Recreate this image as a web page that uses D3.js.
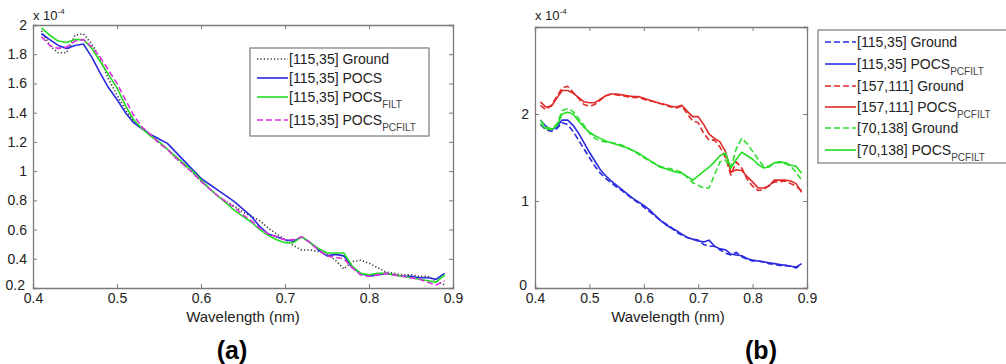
<!DOCTYPE html>
<html><head><meta charset="utf-8">
<script src="https://cdn.jsdelivr.net/npm/d3@7"></script>
<style>body{margin:0;background:#fff}svg{display:block}text{font-family:"Liberation Sans",Arial,sans-serif}</style>
</head><body>
<svg id="c" width="1006" height="364"></svg>
<script>
const wavelength = d3.range(41, 90).map(d => d / 100);

// Panel (a), values x 1e-4
const aGround = [1.96,1.86,1.81,1.81,1.93,1.94,1.87,1.77,1.63,1.52,1.42,1.34,1.29,1.25,1.20,1.15,1.09,1.04,0.99,0.93,0.88,0.83,0.79,0.76,0.72,0.69,0.66,0.61,0.57,0.53,0.49,0.46,0.46,0.45,0.43,0.39,0.33,0.38,0.39,0.37,0.34,0.31,0.30,0.29,0.29,0.28,0.28,0.25,0.22];
const aPOCS = [1.94,1.90,1.86,1.84,1.86,1.87,1.78,1.67,1.57,1.49,1.40,1.33,1.29,1.25,1.22,1.19,1.13,1.07,1.01,0.95,0.91,0.87,0.83,0.79,0.74,0.69,0.62,0.57,0.55,0.53,0.52,0.55,0.51,0.46,0.42,0.43,0.42,0.34,0.30,0.28,0.29,0.30,0.29,0.28,0.28,0.27,0.27,0.26,0.30];
const aFILT = [1.98,1.93,1.89,1.88,1.90,1.90,1.84,1.75,1.66,1.57,1.45,1.35,1.29,1.24,1.20,1.15,1.10,1.05,1.00,0.94,0.88,0.83,0.78,0.73,0.69,0.65,0.60,0.56,0.53,0.51,0.51,0.55,0.51,0.47,0.44,0.44,0.44,0.35,0.30,0.29,0.30,0.30,0.29,0.28,0.27,0.26,0.25,0.24,0.29];
const aPCFILT = [1.92,1.86,1.84,1.85,1.89,1.90,1.85,1.78,1.69,1.60,1.49,1.38,1.30,1.25,1.19,1.15,1.09,1.04,0.99,0.93,0.88,0.83,0.79,0.75,0.70,0.66,0.61,0.57,0.55,0.53,0.53,0.55,0.51,0.46,0.42,0.41,0.40,0.34,0.29,0.28,0.29,0.30,0.29,0.28,0.27,0.26,0.24,0.22,0.25];

// Panel (b), values x 1e-4
const b115Ground = [1.88,1.82,1.80,1.83,1.90,1.88,1.80,1.70,1.60,1.50,1.40,1.32,1.26,1.21,1.16,1.12,1.07,1.02,0.98,0.93,0.88,0.83,0.78,0.74,0.70,0.64,0.61,0.58,0.56,0.55,0.50,0.48,0.48,0.44,0.40,0.38,0.41,0.36,0.33,0.31,0.31,0.30,0.28,0.27,0.26,0.26,0.25,0.23,0.27];
const b115POCS = [1.93,1.86,1.82,1.85,1.93,1.93,1.87,1.78,1.67,1.56,1.46,1.36,1.29,1.23,1.18,1.13,1.08,1.03,0.99,0.95,0.90,0.84,0.78,0.73,0.69,0.66,0.62,0.58,0.56,0.54,0.53,0.55,0.48,0.45,0.44,0.39,0.38,0.37,0.34,0.32,0.31,0.30,0.29,0.28,0.27,0.26,0.25,0.24,0.28];
const b157Ground = [2.10,2.05,2.10,2.20,2.30,2.32,2.25,2.18,2.11,2.09,2.11,2.16,2.21,2.23,2.22,2.21,2.20,2.19,2.19,2.17,2.15,2.14,2.12,2.10,2.08,2.07,2.09,2.00,1.92,1.90,1.78,1.70,1.70,1.62,1.50,1.30,1.45,1.38,1.25,1.17,1.12,1.13,1.18,1.22,1.22,1.23,1.20,1.17,1.12];
const b157POCS = [2.14,2.08,2.09,2.18,2.27,2.27,2.24,2.19,2.14,2.13,2.13,2.17,2.21,2.23,2.23,2.22,2.21,2.20,2.20,2.18,2.16,2.14,2.12,2.11,2.09,2.08,2.10,2.03,1.97,1.97,1.88,1.77,1.72,1.68,1.57,1.33,1.36,1.35,1.28,1.22,1.15,1.15,1.17,1.24,1.24,1.24,1.23,1.20,1.10];
const b70Ground = [1.93,1.85,1.83,1.88,2.04,2.06,2.03,1.95,1.87,1.78,1.72,1.69,1.68,1.67,1.66,1.64,1.61,1.58,1.54,1.50,1.46,1.43,1.40,1.38,1.37,1.35,1.33,1.27,1.21,1.18,1.15,1.15,1.30,1.45,1.47,1.38,1.60,1.72,1.66,1.57,1.48,1.40,1.40,1.44,1.44,1.43,1.40,1.33,1.24];
const b70POCS = [1.89,1.83,1.82,1.86,2.00,2.02,2.00,1.92,1.85,1.79,1.75,1.72,1.69,1.67,1.65,1.63,1.61,1.58,1.55,1.51,1.47,1.43,1.39,1.37,1.35,1.33,1.32,1.28,1.24,1.29,1.34,1.39,1.45,1.52,1.55,1.38,1.48,1.56,1.52,1.48,1.42,1.38,1.39,1.44,1.45,1.44,1.41,1.40,1.32];

const xTicks = [0.4,0.5,0.6,0.7,0.8,0.9];
const aYTicks = [0.2,0.4,0.6,0.8,1,1.2,1.4,1.6,1.8,2];
const bYTicks = [0,1,2];

const svg = d3.select("#c");
const AX = "#7a7a7a", TX = "#222";

function panel(cfg) {
  const x = d3.scaleLinear().domain([0.4,0.9]).range([cfg.x0, cfg.x1]);
  const y = d3.scaleLinear().domain(cfg.yDom).range([cfg.y1, cfg.y0]);
  const g = svg.append("g");
  const fmt = d => d === 0 ? "0" : String(d);
  // inward ticks on all four sides
  const axB = g.append("g").attr("transform", `translate(0,${cfg.y1})`)
    .call(d3.axisBottom(x).tickValues(xTicks).tickSize(-4).tickPadding(7).tickFormat(fmt));
  const axT = g.append("g").attr("transform", `translate(0,${cfg.y0})`)
    .call(d3.axisTop(x).tickValues(xTicks).tickSize(-4).tickFormat(""));
  const axL = g.append("g").attr("transform", `translate(${cfg.x0},0)`)
    .call(d3.axisLeft(y).tickValues(cfg.yTicks).tickSize(-4).tickPadding(6).tickFormat(fmt));
  const axR = g.append("g").attr("transform", `translate(${cfg.x1},0)`)
    .call(d3.axisRight(y).tickValues(cfg.yTicks).tickSize(-4).tickFormat(""));
  [axB, axT, axL, axR].forEach(a => {
    a.select(".domain").attr("stroke", AX).attr("stroke-width", 1.3);
    a.selectAll(".tick line").attr("stroke", AX);
    a.selectAll("text").attr("fill", TX).attr("font-size", 14).style("font-family", '"Liberation Sans",Arial,sans-serif');
  });
  axB.selectAll("text").attr("dy", "0.55em");
  // nudge the lowest y label so it does not collide with the first x label
  axL.selectAll(".tick text").filter((d, i) => i === 0).attr("dy", "0.1em").attr("dx", "-2");
  // exponent label
  const ex = g.append("text").attr("x", cfg.x0).attr("y", 20).attr("fill", TX).attr("font-size", 13);
  ex.append("tspan").text("x 10");
  ex.append("tspan").attr("dy", -6).attr("font-size", 8).text("-4");
  // x label
  g.append("text").attr("x", cfg.xlabX).attr("y", 322).attr("text-anchor", "middle")
    .attr("fill", TX).attr("font-size", 15).text("Wavelength (nm)");
  g.append("text").attr("x", cfg.tagX).attr("y", 359).attr("text-anchor", "middle")
    .attr("fill", "#000").attr("font-size", 25).attr("font-weight", "bold").text(cfg.tag);
  // lines
  const clip = "clip" + cfg.tag.replace(/\W/g, "");
  svg.append("clipPath").attr("id", clip).append("rect")
    .attr("x", cfg.x0).attr("y", cfg.y0).attr("width", cfg.x1 - cfg.x0).attr("height", cfg.y1 - cfg.y0);
  const line = d3.line().x((d, i) => x(wavelength[i])).y(d => y(d));
  const lg = g.append("g").attr("clip-path", `url(#${clip})`);
  cfg.series.forEach(s => {
    lg.append("path").datum(s.v).attr("d", line).attr("fill", "none")
      .attr("stroke", s.c).attr("stroke-width", s.w || 1.6).attr("stroke-dasharray", s.dash || null)
      .attr("stroke-linejoin", "round");
  });
  // legend
  const L = cfg.legend;
  g.append("rect").attr("x", L.x).attr("y", L.y).attr("width", L.w).attr("height", L.h)
    .attr("fill", "#fff").attr("stroke", AX).attr("stroke-width", 1.2);
  L.items.forEach((it, i) => {
    const s = cfg.series[it.s];
    const yy = L.rows[i];
    g.append("line").attr("x1", L.x + 7).attr("x2", L.x + 38).attr("y1", yy).attr("y2", yy)
      .attr("stroke", s.c).attr("stroke-width", s.w || 1.6).attr("stroke-dasharray", s.dash || null);
    const t = g.append("text").attr("x", L.x + 39).attr("y", yy + 5).attr("fill", TX).attr("font-size", 14);
    t.append("tspan").text(it.t);
    if (it.sub) t.append("tspan").attr("dy", 6).attr("font-size", 10).attr("fill", "#444").text(it.sub);
  });
}

panel({
  x0: 33, x1: 453, y0: 25, y1: 288, yDom: [0.2, 2], yTicks: aYTicks, xlabX: 243, tagX: 232, tag: "(a)",
  series: [
    {v: aGround, c: "#333", dash: "1.2,2.2", w: 1.6},
    {v: aPOCS, c: "#2a2ae0"},
    {v: aFILT, c: "#22dd22"},
    {v: aPCFILT, c: "#e030e0", dash: "6,3"}
  ],
  legend: {x: 250, y: 48, w: 179, h: 88, rows: [59, 78, 97, 120],
    items: [{s: 0, t: "[115,35] Ground"}, {s: 1, t: "[115,35] POCS"},
            {s: 2, t: "[115,35] POCS", sub: "FILT"}, {s: 3, t: "[115,35] POCS", sub: "PCFILT"}]}
});

panel({
  x0: 535, x1: 807, y0: 27, y1: 288, yDom: [0, 3], yTicks: bYTicks, xlabX: 668, tagX: 761, tag: "(b)",
  series: [
    {v: b115Ground, c: "#2a2ae0", dash: "6,3"},
    {v: b115POCS, c: "#2a2ae0"},
    {v: b157Ground, c: "#e02a2a", dash: "6,3"},
    {v: b157POCS, c: "#e02a2a"},
    {v: b70Ground, c: "#33dd33", dash: "6,3"},
    {v: b70POCS, c: "#22dd22"}
  ],
  legend: {x: 818, y: 30, w: 200, h: 133, rows: [42, 64, 86, 107, 128, 150],
    items: [{s: 0, t: "[115,35] Ground"}, {s: 1, t: "[115,35] POCS", sub: "PCFILT"},
            {s: 2, t: "[157,111] Ground"}, {s: 3, t: "[157,111] POCS", sub: "PCFILT"},
            {s: 4, t: "[70,138] Ground"}, {s: 5, t: "[70,138] POCS", sub: "PCFILT"}]}
});
</script>
</body></html>
